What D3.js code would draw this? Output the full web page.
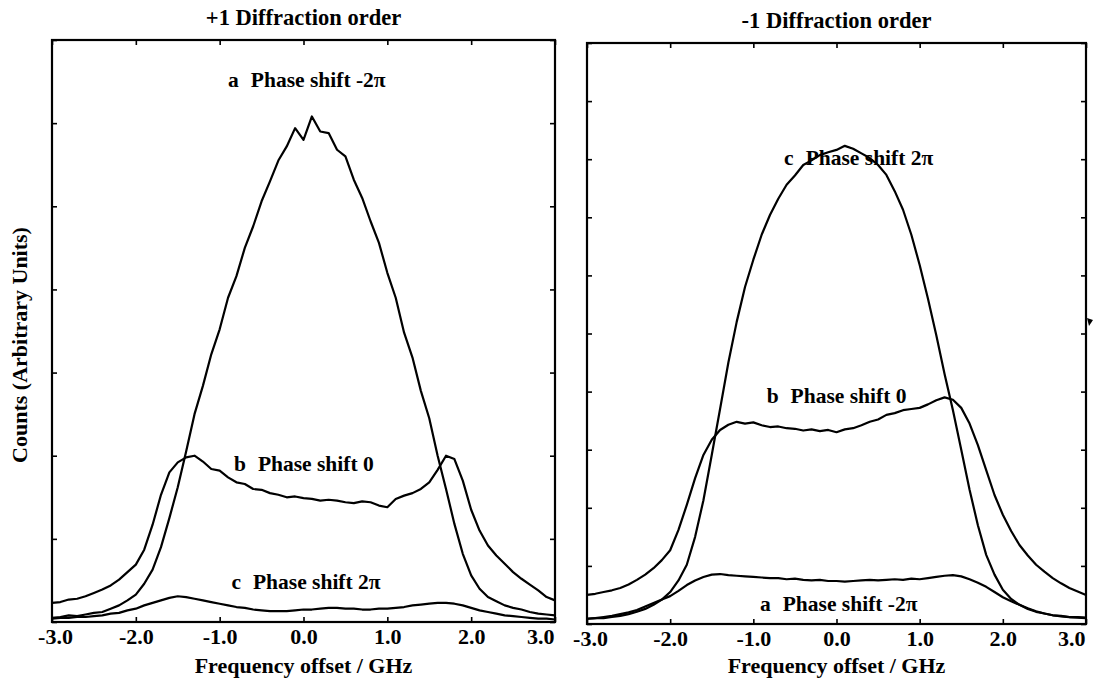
<!DOCTYPE html>
<html>
<head>
<meta charset="utf-8">
<script src="https://cdn.jsdelivr.net/npm/d3@7"></script>
<style>
body { margin: 0; background: #fff; }
text { font-family: "Liberation Serif", "Times New Roman", serif; font-weight: bold; fill: #000; }
</style>
</head>
<body>
<div id="chart"></div>
<script>
// frequency grid (GHz)
var freq = [-3.0,-2.9,-2.8,-2.7,-2.6,-2.5,-2.4,-2.3,-2.2,-2.1,-2.0,-1.9,-1.8,-1.7,-1.6,-1.5,-1.4,-1.3,-1.2,-1.1,
  -1.0,-0.9,-0.8,-0.7,-0.6,-0.5,-0.4,-0.3,-0.2,-0.1,0.0,0.1,0.2,0.3,0.4,0.5,0.6,0.7,0.8,0.9,
  1.0,1.1,1.2,1.3,1.4,1.5,1.6,1.7,1.8,1.9,2.0,2.1,2.2,2.3,2.4,2.5,2.6,2.7,2.8,2.9,3.0];

// +1 order
var plusA = [0.05,0.06,0.08,0.07,0.09,0.11,0.12,0.16,0.2,0.26,0.33,0.46,0.63,0.9,1.25,1.62,2.05,2.5,2.84,3.22,
  3.52,3.9,4.16,4.5,4.76,5.06,5.3,5.55,5.72,5.94,5.8,6.08,5.9,5.88,5.68,5.6,5.32,5.1,4.82,4.56,
  4.2,3.9,3.48,3.18,2.78,2.45,2.0,1.6,1.18,0.82,0.56,0.4,0.3,0.25,0.2,0.17,0.15,0.12,0.1,0.09,0.08];
var plusB = [0.23,0.24,0.27,0.28,0.31,0.35,0.39,0.44,0.51,0.6,0.69,0.87,1.17,1.53,1.8,1.92,1.98,2.0,1.93,1.84,
  1.82,1.74,1.68,1.66,1.6,1.59,1.55,1.53,1.5,1.51,1.49,1.48,1.46,1.47,1.46,1.44,1.43,1.45,1.44,1.4,
  1.38,1.48,1.52,1.55,1.6,1.68,1.83,2.0,1.96,1.7,1.35,1.1,0.92,0.8,0.7,0.6,0.52,0.45,0.38,0.3,0.26];
var plusC = [0.04,0.05,0.05,0.06,0.06,0.07,0.08,0.1,0.11,0.14,0.16,0.2,0.23,0.26,0.29,0.31,0.3,0.28,0.26,0.24,
  0.22,0.2,0.18,0.17,0.15,0.14,0.13,0.13,0.13,0.14,0.15,0.15,0.16,0.17,0.17,0.16,0.16,0.15,0.15,0.16,
  0.16,0.17,0.18,0.2,0.21,0.22,0.23,0.23,0.22,0.2,0.17,0.14,0.12,0.1,0.08,0.07,0.06,0.05,0.04,0.04,0.03];

// -1 order
var minusA = [0.09,0.1,0.12,0.14,0.17,0.2,0.24,0.3,0.36,0.42,0.48,0.57,0.67,0.75,0.81,0.85,0.86,0.84,0.83,0.82,
  0.81,0.8,0.79,0.79,0.77,0.78,0.76,0.75,0.76,0.74,0.74,0.73,0.74,0.75,0.76,0.75,0.76,0.77,0.76,0.78,
  0.77,0.79,0.81,0.83,0.84,0.82,0.77,0.71,0.64,0.55,0.46,0.39,0.33,0.27,0.22,0.18,0.15,0.13,0.12,0.11,0.1];
var minusB = [0.5,0.52,0.55,0.58,0.62,0.68,0.76,0.85,0.96,1.1,1.27,1.62,2.05,2.51,2.91,3.17,3.34,3.43,3.48,3.45,
  3.47,3.42,3.39,3.4,3.37,3.36,3.33,3.35,3.32,3.34,3.3,3.35,3.37,3.42,3.48,3.52,3.6,3.63,3.68,3.7,
  3.72,3.78,3.85,3.9,3.86,3.72,3.45,3.08,2.65,2.22,1.88,1.6,1.36,1.18,1.02,0.9,0.79,0.7,0.62,0.56,0.5];
var minusC = [0.09,0.1,0.1,0.12,0.14,0.17,0.21,0.26,0.33,0.42,0.55,0.75,1.02,1.5,2.13,2.91,3.7,4.5,5.2,5.8,
  6.27,6.7,7.04,7.32,7.56,7.72,7.9,7.98,8.07,8.12,8.16,8.23,8.18,8.1,8.02,7.9,7.73,7.45,7.13,6.7,
  6.18,5.6,4.97,4.3,3.68,3.0,2.31,1.7,1.19,0.85,0.59,0.43,0.33,0.26,0.21,0.18,0.15,0.14,0.12,0.12,0.11];

var xTicks = [-3, -2, -1, 0, 1, 2, 3];
var xTickLabels = ["-3.0", "-2.0", "-1.0", "0.0", "1.0", "2.0", "3.0"];
var panelTitles = ["+1 Diffraction order", "-1 Diffraction order"];
var xTitle = "Frequency offset / GHz";
var yTitle = "Counts (Arbitrary Units)";

var W = 1094, H = 683;
var svg = d3.select("#chart").append("svg").attr("width", W).attr("height", H);

var panels = [
  { box: { l: 52, r: 555, t: 40, b: 622 }, ymax: 7, title: panelTitles[0], titleY: 25,
    series: [plusA, plusB, plusC],
    labels: [
      { letter: "a", text: "Phase shift -2\u03c0", x: -0.9, y: 6.43 },
      { letter: "b", text: "Phase shift 0", x: -0.83, y: 1.82 },
      { letter: "c", text: "Phase shift 2\u03c0", x: -0.86, y: 0.4 }
    ] },
  { box: { l: 587, r: 1086, t: 43, b: 624 }, ymax: 10, title: panelTitles[1], titleY: 28,
    series: [minusA, minusB, minusC],
    labels: [
      { letter: "c", text: "Phase shift 2\u03c0", x: -0.63, y: 7.9 },
      { letter: "b", text: "Phase shift 0", x: -0.84, y: 3.8 },
      { letter: "a", text: "Phase shift -2\u03c0", x: -0.92, y: 0.22 }
    ] }
];

panels.forEach(function (p, pi) {
  var b = p.box;
  var x = d3.scaleLinear().domain([-3, 3]).range([b.l, b.r]);
  var y = d3.scaleLinear().domain([0, p.ymax]).range([b.b, b.t]);
  var g = svg.append("g");

  // curves
  var line = d3.line().x(function (d, i) { return x(freq[i]); }).y(function (d) { return y(d); });
  p.series.forEach(function (s) {
    g.append("path").datum(s).attr("d", line)
      .attr("fill", "none").attr("stroke", "#000").attr("stroke-width", 2.2)
      .attr("stroke-linejoin", "round");
  });

  // inward ticks on all four sides
  var yt = d3.range(0, p.ymax + 1);
  function strip(sel) { sel.select(".domain").remove(); sel.selectAll(".tick line").attr("stroke", "#000").attr("stroke-width", 1.6); }
  g.append("g").attr("transform", "translate(0," + b.b + ")")
    .call(d3.axisBottom(x).tickValues(xTicks).tickSize(-5).tickPadding(6)
      .tickFormat(function (d, i) { return xTickLabels[i]; }))
    .call(strip)
    .call(function (sel) {
      sel.selectAll(".tick text").attr("font-size", 22).attr("fill", "#000")
        .attr("font-family", "Liberation Serif").attr("font-weight", "bold")
        .attr("text-anchor", function (d) { return d === 3 ? "end" : "middle"; })
        .attr("x", function (d) { return d === 3 ? -1 : (d === -3 ? 3 : 0); });
    });
  g.append("g").attr("transform", "translate(0," + b.t + ")")
    .call(d3.axisTop(x).tickValues(xTicks).tickSize(-5).tickFormat("")).call(strip);
  g.append("g").attr("transform", "translate(" + b.l + ",0)")
    .call(d3.axisLeft(y).tickValues(yt).tickSize(-5).tickFormat("")).call(strip);
  g.append("g").attr("transform", "translate(" + b.r + ",0)")
    .call(d3.axisRight(y).tickValues(yt).tickSize(-5).tickFormat("")).call(strip);

  // frame
  g.append("rect").attr("x", b.l).attr("y", b.t).attr("width", b.r - b.l).attr("height", b.b - b.t)
    .attr("fill", "none").attr("stroke", "#000").attr("stroke-width", 2.2);

  // titles
  g.append("text").attr("x", (b.l + b.r) / 2).attr("y", p.titleY).attr("text-anchor", "middle")
    .attr("font-size", 22.5).text(p.title);
  g.append("text").attr("x", (b.l + b.r) / 2).attr("y", 673).attr("text-anchor", "middle")
    .attr("font-size", 22).text(xTitle);

  // curve labels
  p.labels.forEach(function (lb) {
    var t = g.append("text").attr("x", x(lb.x)).attr("y", y(lb.y)).attr("font-size", 21.5);
    t.append("tspan").text(lb.letter);
    t.append("tspan").attr("dx", 12).text(lb.text);
  });

  // small scan mark on the right edge of the -1 panel
  if (pi === 1) {
    var my = y(5.2);
    g.append("path").attr("d", d3.line()([[b.r + 1, my - 4], [b.r + 7, my - 2], [b.r + 3, my + 4]]) + "Z")
      .attr("fill", "#000");
  }
});

// y axis title
svg.append("text").attr("transform", "translate(27,345) rotate(-90)").attr("text-anchor", "middle")
  .attr("font-size", 22).text(yTitle);
</script>
</body>
</html>
